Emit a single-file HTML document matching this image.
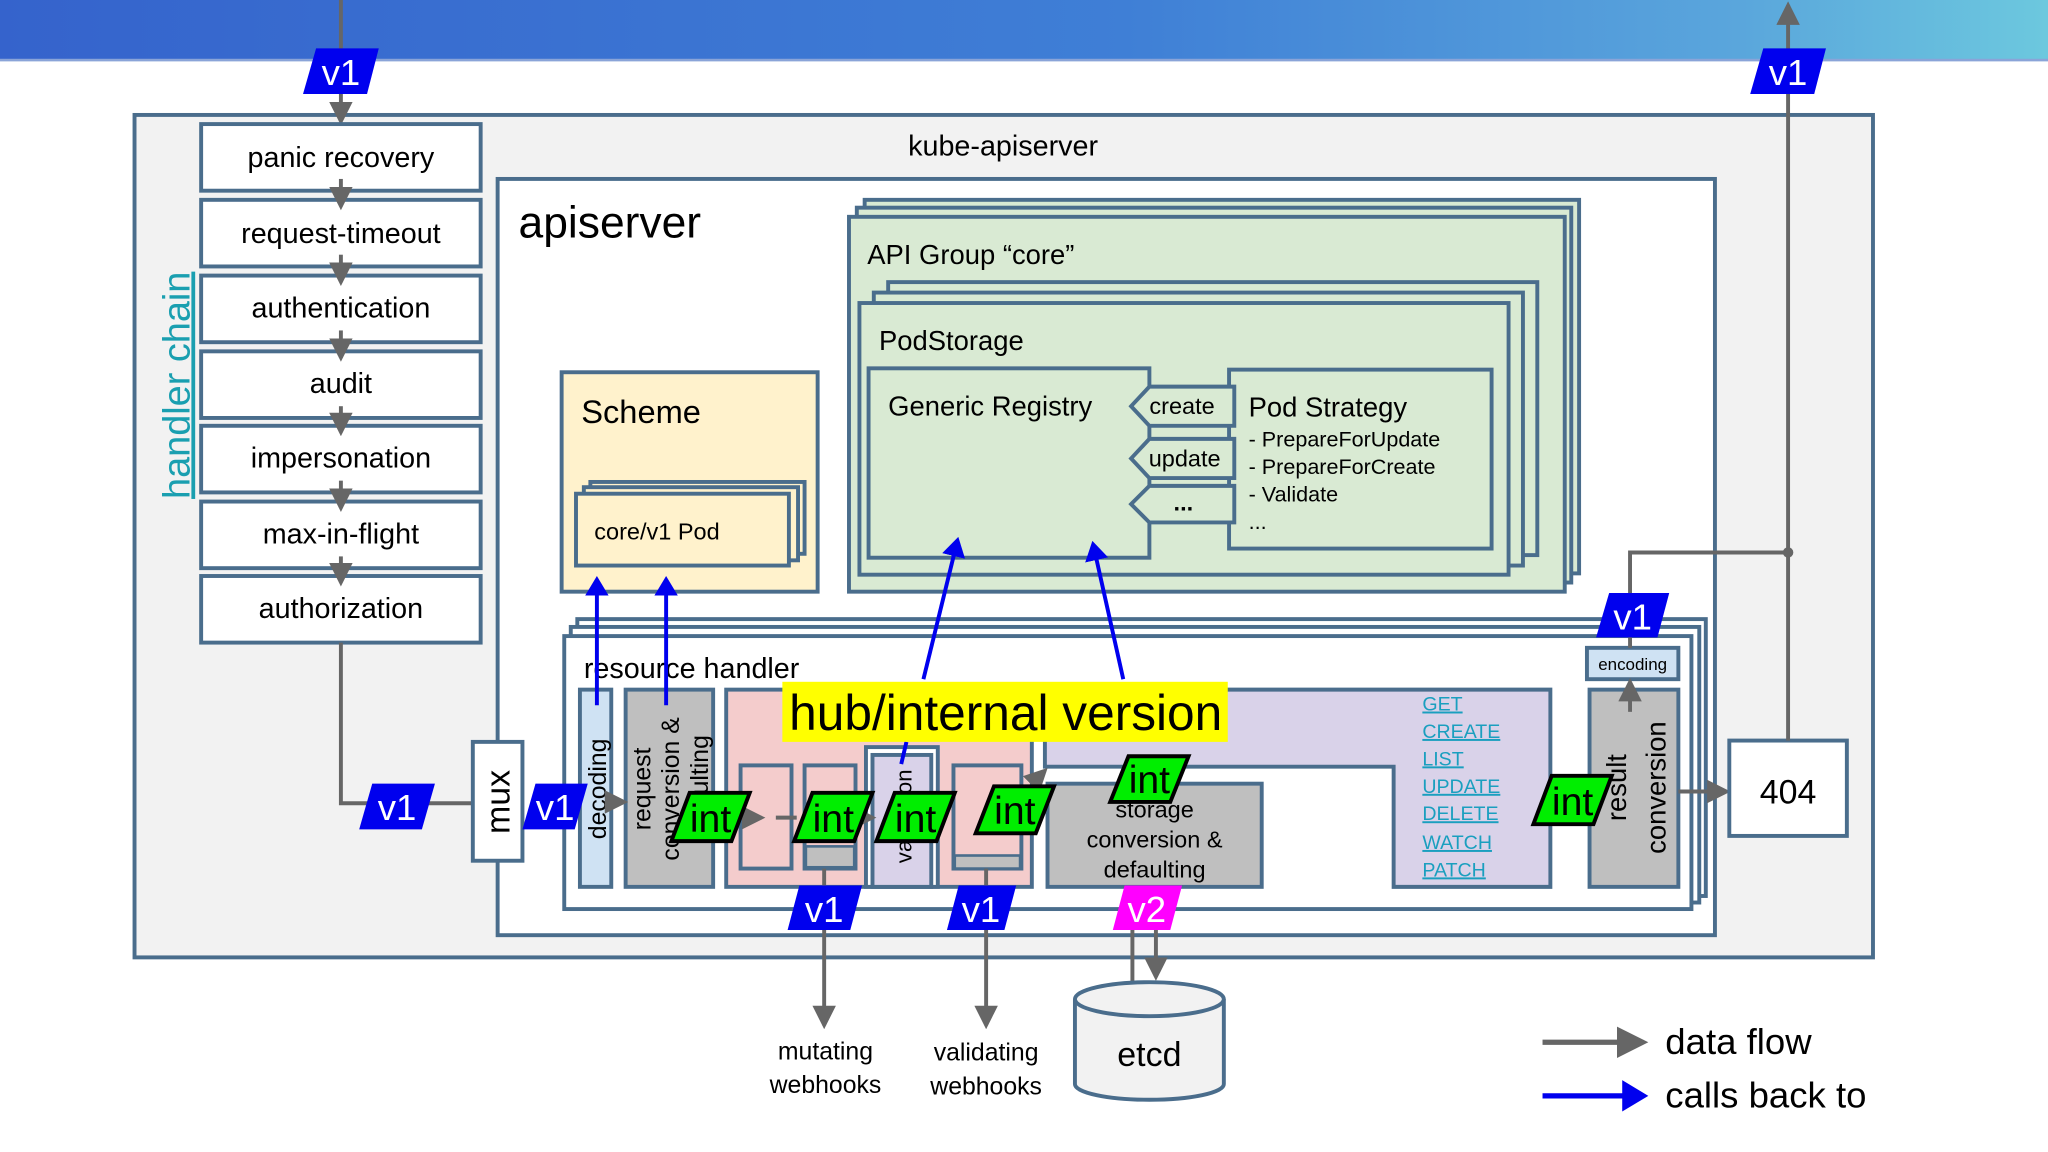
<!DOCTYPE html>
<html><head><meta charset="utf-8"><style>
html,body{margin:0;padding:0;background:#fff;}
svg{display:block;}
text{font-family:"Liberation Sans",sans-serif;}
</style></head><body>
<svg width="2048" height="1152" viewBox="0 0 1568 882" xmlns="http://www.w3.org/2000/svg">
<defs>
<linearGradient id="hg" x1="0" x2="1" y1="0" y2="0">
<stop offset="0" stop-color="#3563cc"/><stop offset="0.55" stop-color="#3f7fd6"/><stop offset="0.85" stop-color="#5aa6dc"/><stop offset="1" stop-color="#6cc8de"/>
</linearGradient>
<marker id="ga" markerWidth="6" markerHeight="6" refX="5" refY="3" orient="auto" markerUnits="strokeWidth"><path d="M0,0 L6,3 L0,6 z" fill="#666"/></marker>
<marker id="ba" markerWidth="5" markerHeight="6" refX="4" refY="3" orient="auto" markerUnits="strokeWidth"><path d="M0,0 L5,3 L0,6 z" fill="#0000ee"/></marker>
</defs>
<rect x="0" y="0" width="1568" height="46" fill="url(#hg)"/>
<rect x="0" y="45" width="1568" height="2" fill="#8aa4d8"/>

<!-- outer -->
<rect x="103" y="88" width="1331" height="645" fill="#f2f2f2" stroke="#4a6d8c" stroke-width="3"/>
<text x="768" y="119" font-size="22" text-anchor="middle">kube-apiserver</text>

<!-- top input line -->
<line x1="261" y1="0" x2="261" y2="93" stroke="#666" stroke-width="3" marker-end="url(#ga)"/>
<!-- handler chain -->
<g stroke="#4a6d8c" stroke-width="3" fill="#fff">
<rect x="154" y="95" width="214" height="51"/>
<rect x="154" y="153" width="214" height="51"/>
<rect x="154" y="211" width="214" height="51"/>
<rect x="154" y="269" width="214" height="51"/>
<rect x="154" y="326" width="214" height="51"/>
<rect x="154" y="384" width="214" height="51"/>
<rect x="154" y="441" width="214" height="51"/>
</g>
<g stroke="#666" stroke-width="3" marker-end="url(#ga)">
<line x1="261" y1="137" x2="261" y2="158"/>
<line x1="261" y1="195" x2="261" y2="216"/>
<line x1="261" y1="253" x2="261" y2="274"/>
<line x1="261" y1="311" x2="261" y2="331"/>
<line x1="261" y1="368" x2="261" y2="389"/>
<line x1="261" y1="426" x2="261" y2="446"/>
</g>
<g font-size="22" text-anchor="middle" font-family="Liberation Sans,sans-serif">
<text x="261" y="128">panic recovery</text>
<text x="261" y="186">request-timeout</text>
<text x="261" y="243">authentication</text>
<text x="261" y="301">audit</text>
<text x="261" y="358">impersonation</text>
<text x="261" y="416">max-in-flight</text>
<text x="261" y="473">authorization</text>
</g>
<text transform="translate(145,295) rotate(-90)" font-size="29" text-anchor="middle" fill="#1a9fb0" text-decoration="underline">handler chain</text>
<polyline points="261,492 261,615 362,615" fill="none" stroke="#666" stroke-width="3"/>

<!-- apiserver -->
<rect x="381" y="137" width="932" height="579" fill="#fff" stroke="#4a6d8c" stroke-width="3"/>
<text x="397" y="182" font-size="34">apiserver</text>

<!-- API group -->
<g stroke="#4a6d8c" stroke-width="3" fill="#d9ead3">
<rect x="662" y="153" width="547" height="286"/>
<rect x="656" y="159" width="547" height="287"/>
<rect x="650" y="166" width="548" height="287"/>
</g>
<text x="664" y="202" font-size="21">API Group “core”</text>
<g stroke="#4a6d8c" stroke-width="3" fill="#d9ead3">
<rect x="680" y="216" width="497" height="209"/>
<rect x="669" y="224" width="497" height="209"/>
<rect x="658" y="232" width="497" height="208"/>
<rect x="665" y="282" width="215" height="145"/>
<rect x="941" y="283" width="201" height="137"/>
<polygon points="880,296 945,296 945,326 880,326 866,311"/>
<polygon points="880,336 945,336 945,366 880,366 866,351"/>
<polygon points="880,372 945,372 945,400 880,400 866,386"/>
</g>
<text x="673" y="268" font-size="21">PodStorage</text>
<text x="680" y="318" font-size="21">Generic Registry</text>
<text x="905" y="317" font-size="18" text-anchor="middle">create</text>
<text x="907" y="357" font-size="18" text-anchor="middle">update</text>
<text x="906" y="391" font-size="18" text-anchor="middle" font-weight="bold">...</text>
<text x="956" y="319" font-size="21">Pod Strategy</text>
<text x="956" y="342" font-size="16.5">- PrepareForUpdate</text>
<text x="956" y="363" font-size="16.5">- PrepareForCreate</text>
<text x="956" y="384" font-size="16.5">- Validate</text>
<text x="956" y="405" font-size="16.5">...</text>

<!-- scheme -->
<rect x="430" y="285" width="196" height="168" fill="#fff2cc" stroke="#4a6d8c" stroke-width="3"/>
<text x="445" y="324" font-size="25">Scheme</text>
<g stroke="#4a6d8c" stroke-width="3" fill="#fff2cc">
<rect x="452" y="369" width="164" height="55"/>
<rect x="447" y="373" width="164" height="56"/>
<rect x="441" y="378" width="163" height="55"/>
</g>
<text x="455" y="413" font-size="18">core/v1 Pod</text>

<!-- resource handler -->
<g stroke="#4a6d8c" stroke-width="3" fill="#fff">
<rect x="442" y="474" width="864" height="212"/>
<rect x="437" y="480" width="864" height="211"/>
<rect x="432" y="487" width="863" height="209"/>
</g>
<text x="447" y="519" font-size="22">resource handler</text>
<rect x="444" y="528" width="24" height="151" fill="#cfe2f3" stroke="#4a6d8c" stroke-width="3"/>
<text transform="translate(464,604) rotate(-90)" font-size="19" text-anchor="middle">decoding</text>
<rect x="479" y="528" width="67" height="151" fill="#bfbfbf" stroke="#4a6d8c" stroke-width="3"/>
<text transform="translate(498,604) rotate(-90)" font-size="19" text-anchor="middle">request</text>
<text transform="translate(520,604) rotate(-90)" font-size="19" text-anchor="middle">conversion &amp;</text>
<text transform="translate(542,604) rotate(-90)" font-size="19" text-anchor="middle">defaulting</text>
<rect x="556" y="528" width="234" height="151" fill="#f4cccc" stroke="#4a6d8c" stroke-width="3"/>
<g stroke="#4a6d8c" stroke-width="3" fill="#f4cccc">
<rect x="567" y="586" width="39" height="79"/>
<rect x="616" y="586" width="39" height="79"/>
<rect x="730" y="586" width="52" height="79"/>
</g>
<rect x="617" y="648" width="37" height="16" fill="#bfbfbf" stroke="#4a6d8c" stroke-width="2"/>
<rect x="731" y="655" width="50" height="10" fill="#bfbfbf" stroke="#4a6d8c" stroke-width="2"/>
<rect x="663" y="572" width="55" height="107" fill="#fff" stroke="#4a6d8c" stroke-width="3"/>
<rect x="668" y="578" width="45" height="101" fill="#d9d2e9" stroke="#4a6d8c" stroke-width="3"/>
<text transform="translate(698,625) rotate(-90)" font-size="17" text-anchor="middle">validation</text>

<polygon points="800,528 1187,528 1187,679 1067,679 1067,587 800,587" fill="#d9d2e9" stroke="#4a6d8c" stroke-width="3"/>
<rect x="802" y="600" width="164" height="79" fill="#bfbfbf" stroke="#4a6d8c" stroke-width="3"/>
<text x="884" y="626" font-size="18" text-anchor="middle">storage</text>
<text x="884" y="649" font-size="18" text-anchor="middle">conversion &amp;</text>
<text x="884" y="672" font-size="18" text-anchor="middle">defaulting</text>
<g font-size="15" fill="#1a9fbf" text-decoration="underline">
<text x="1089" y="544">GET</text>
<text x="1089" y="565">CREATE</text>
<text x="1089" y="586">LIST</text>
<text x="1089" y="607">UPDATE</text>
<text x="1089" y="628">DELETE</text>
<text x="1089" y="650">WATCH</text>
<text x="1089" y="671">PATCH</text>
</g>
<rect x="1217" y="528" width="68" height="151" fill="#bfbfbf" stroke="#4a6d8c" stroke-width="3"/>
<text transform="translate(1245,603) rotate(-90)" font-size="21" text-anchor="middle">result</text>
<text transform="translate(1275,603) rotate(-90)" font-size="21" text-anchor="middle">conversion</text>
<rect x="1215" y="496" width="70" height="24" fill="#cfe2f3" stroke="#4a6d8c" stroke-width="3"/>
<text x="1250" y="513" font-size="13" text-anchor="middle">encoding</text>
<line x1="1248" y1="545" x2="1248" y2="522" stroke="#666" stroke-width="3" marker-end="url(#ga)"/>

<!-- internal flow arrows -->
<g stroke="#666" stroke-width="3">
<line x1="468" y1="614" x2="478" y2="614" marker-end="url(#ga)"/>
<line x1="565" y1="626" x2="583" y2="626" marker-end="url(#ga)"/>
<line x1="594" y1="626" x2="610" y2="626"/>
<line x1="655" y1="626" x2="668" y2="626" marker-end="url(#ga)"/>
<line x1="790" y1="600" x2="800" y2="590" marker-end="url(#ga)"/>
<line x1="1285" y1="606" x2="1322" y2="606" marker-end="url(#ga)"/>
</g>

<!-- mux, 404 -->
<rect x="362" y="568" width="38" height="91" fill="#fff" stroke="#4a6d8c" stroke-width="3"/>
<text transform="translate(390,614) rotate(-90)" font-size="26" text-anchor="middle">mux</text>
<rect x="1324" y="567" width="90" height="73" fill="#fff" stroke="#4a6d8c" stroke-width="3"/>
<text x="1369" y="615" font-size="26" text-anchor="middle">404</text>

<!-- right lines -->
<line x1="1369" y1="567" x2="1369" y2="4" stroke="#666" stroke-width="3" marker-end="url(#ga)"/>
<polyline points="1248,496 1248,423 1369,423" fill="none" stroke="#666" stroke-width="3"/>
<circle cx="1369" cy="423" r="4" fill="#666"/>

<!-- down lines -->
<g stroke="#666" stroke-width="3">
<line x1="631" y1="665" x2="631" y2="785" marker-end="url(#ga)"/>
<line x1="755" y1="665" x2="755" y2="785" marker-end="url(#ga)"/>
<line x1="867" y1="700" x2="867" y2="752"/>
<line x1="885" y1="700" x2="885" y2="748" marker-end="url(#ga)"/>
</g>

<!-- blue arrows -->
<g stroke="#0000ee" stroke-width="3" marker-end="url(#ba)">
<line x1="457" y1="540" x2="457" y2="444"/>
<line x1="510" y1="540" x2="510" y2="444"/>
<line x1="707" y1="520" x2="733" y2="414"/>
<line x1="860" y1="520" x2="837" y2="417"/>
</g>
<line x1="690" y1="585" x2="694" y2="568" stroke="#0000ee" stroke-width="3"/>

<!-- hub label -->
<rect x="599" y="522" width="341" height="46" fill="#ffff00"/>
<text x="770" y="559" font-size="38" text-anchor="middle">hub/internal version</text>

<!-- int badges -->
<g fill="#00ee00" stroke="#000" stroke-width="3">
<polygon points="528,607 574,607 560,644 514,644"/>
<polygon points="622,607 668,607 654,644 608,644"/>
<polygon points="685,607 731,607 717,644 671,644"/>
<polygon points="761,602 807,602 793,638 747,638"/>
<polygon points="864,579 910,579 896,614 850,614"/>
<polygon points="1188,594 1234,594 1220,631 1174,631"/>
</g>
<g font-size="30" text-anchor="middle">
<text x="544" y="637">int</text>
<text x="638" y="637">int</text>
<text x="701" y="637">int</text>
<text x="777" y="631">int</text>
<text x="880" y="607">int</text>
<text x="1204" y="624">int</text>
</g>

<!-- v badges -->
<g fill="#0000ee">
<polygon points="242,37 290,37 281,72 232,72"/>
<polygon points="1350,37 1398,37 1389,72 1340,72"/>
<polygon points="1232,454 1278,454 1269,488 1222,488"/>
<polygon points="285,600 333,600 323,635 275,635"/>
<polygon points="410,600 450,600 440,635 400,635"/>
<polygon points="612,678 660,678 651,712 603,712"/>
<polygon points="734,678 778,678 769,712 725,712"/>
</g>
<polygon points="861,678 905,678 896,712 852,712" fill="#ff00ff"/>
<g font-size="28" fill="#fff" text-anchor="middle">
<text x="261" y="65">v1</text>
<text x="1369" y="65">v1</text>
<text x="1250" y="482">v1</text>
<text x="304" y="628">v1</text>
<text x="425" y="628">v1</text>
<text x="631" y="706">v1</text>
<text x="751" y="706">v1</text>
<text x="878" y="706">v2</text>
</g>

<!-- etcd -->
<path d="M823,765 L823,830 A57,12 0 0 0 937,830 L937,765" fill="#f2f2f2" stroke="#4a6d8c" stroke-width="3"/>
<ellipse cx="880" cy="765" rx="57" ry="13" fill="#f2f2f2" stroke="#4a6d8c" stroke-width="3"/>
<text x="880" y="816" font-size="26" text-anchor="middle">etcd</text>

<g font-size="19" text-anchor="middle">
<text x="632" y="811">mutating</text>
<text x="632" y="837">webhooks</text>
<text x="755" y="812">validating</text>
<text x="755" y="838">webhooks</text>
</g>

<!-- legend -->
<line x1="1181" y1="798" x2="1258" y2="798" stroke="#666" stroke-width="4" marker-end="url(#ga)"/>
<line x1="1181" y1="839" x2="1258" y2="839" stroke="#0000ee" stroke-width="4" marker-end="url(#ba)"/>
<text x="1275" y="807" font-size="28">data flow</text>
<text x="1275" y="848" font-size="28">calls back to</text>
</svg>
</body></html>
